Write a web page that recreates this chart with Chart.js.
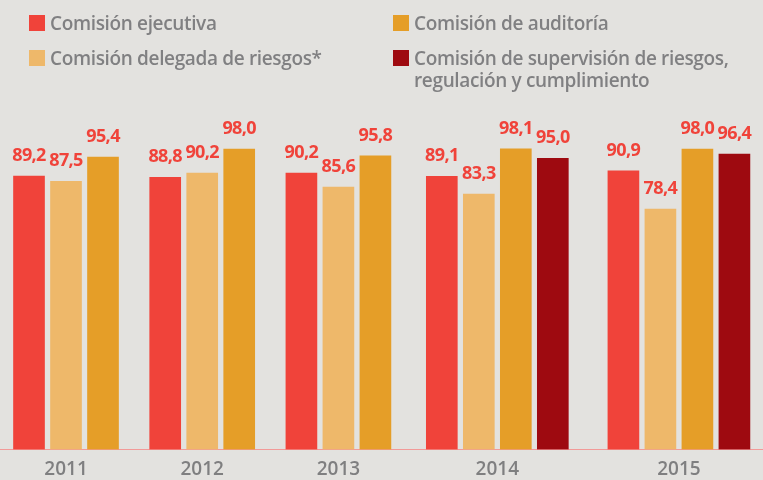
<!DOCTYPE html>
<html>
<head>
<meta charset="utf-8">
<script src="https://cdn.jsdelivr.net/npm/chart.js@4/dist/chart.umd.min.js"></script>
<style>
  html, body { margin: 0; padding: 0; background: #e3e2df; }
  #wrap { position: relative; width: 763px; height: 480px; overflow: hidden; background: #e3e2df; }
  #chart { position: absolute; left: 0; top: 0; }
  .leg { position: absolute; font-family: "Open Sans", sans-serif; font-weight: 600; font-size: 19px;
         line-height: 22px; color: #808082; white-space: nowrap; letter-spacing: -0.35px; }
  .leg .sw { position: absolute; left: -21px; top: 3px; width: 16px; height: 16px; }
</style>
</head>
<body>
<div id="wrap">
  <canvas id="chart" width="763" height="480"></canvas>
  <div id="legend"></div>
</div>
<script>
// ---- data ----
const years = ['2011', '2012', '2013', '2014', '2015'];
const ejecutiva   = [89.2, 88.8, 90.2, 89.1, 90.9];
const delegada    = [87.5, 90.2, 85.6, 83.3, 78.4];
const auditoria   = [95.4, 98.0, 95.8, 98.1, 98.0];
const supervision = [null, null, null, 95.0, 96.4];
const seriesNames = [
  'Comisión ejecutiva',
  'Comisión delegada de riesgos*',
  'Comisión de auditoría',
  ['Comisión de supervisión de riesgos,', 'regulación y cumplimiento']
];
const seriesColors = ['#f0433a', '#eeb86a', '#e59e28', '#9e0a10'];
const legendOrder = [0, 2, 1, 3];

// ---- layout helpers (derived from data structure) ----
const series = [ejecutiva, delegada, auditoria, supervision];
const BAR_STEP = 0.815;               // distance between bars of one year, in slot units
const counts = years.map((_, k) => series.filter(s => s[k] !== null).length);
const starts = counts.map((_, k) => counts.slice(0, k).reduce((a, b) => a + b, 0));
const centers = counts.map((n, k) => starts[k] + n / 2);

const datasets = series.map((vals, si) => {
  const pts = [];
  vals.forEach((v, k) => {
    if (v === null) return;
    const present = series.map((s, j) => j).filter(j => series[j][k] !== null);
    const idx = present.indexOf(si);
    pts.push({ x: centers[k] + (idx - (counts[k] - 1) / 2) * BAR_STEP, y: v });
  });
  return {
    label: Array.isArray(seriesNames[si]) ? seriesNames[si].join(' ') : seriesNames[si],
    data: pts,
    backgroundColor: seriesColors[si],
    borderWidth: 0,
    grouped: false,
    barThickness: 31
  };
});

// ---- HTML legend ----
const legendEl = document.getElementById('legend');
legendOrder.forEach((si, pos) => {
  const col = pos % 2, row = Math.floor(pos / 2);
  const d = document.createElement('div');
  d.className = 'leg';
  d.style.left = (col === 0 ? 50 : 414) + 'px';
  d.style.top = (row === 0 ? 12 : 47) + 'px';
  const sw = document.createElement('span');
  sw.className = 'sw';
  sw.style.background = seriesColors[si];
  d.appendChild(sw);
  const name = seriesNames[si];
  (Array.isArray(name) ? name : [name]).forEach((line, li) => {
    if (li) d.appendChild(document.createElement('br'));
    d.appendChild(document.createTextNode(line));
  });
  legendEl.appendChild(d);
});

// ---- value labels plugin ----
const valueLabels = {
  id: 'valueLabels',
  afterDatasetsDraw(chart) {
    const ctx = chart.ctx;
    ctx.save();
    ctx.font = 'bold 18px "Open Sans", sans-serif';
    if ('letterSpacing' in ctx) ctx.letterSpacing = '-0.6px';
    ctx.fillStyle = '#f0433a';
    ctx.textAlign = 'center';
    ctx.textBaseline = 'alphabetic';
    chart.data.datasets.forEach((ds, i) => {
      const meta = chart.getDatasetMeta(i);
      meta.data.forEach((el, j) => {
        const v = ds.data[j].y;
        ctx.fillText(v.toFixed(1).replace('.', ','), el.x, el.y - 15);
      });
    });
    ctx.restore();
  }
};

new Chart(document.getElementById('chart'), {
  type: 'bar',
  data: { datasets },
  options: {
    responsive: false,
    animation: false,
    devicePixelRatio: 1,
    layout: { padding: { top: 143, left: 0, right: 0, bottom: 0 } },
    plugins: { legend: { display: false }, tooltip: { enabled: false } },
    scales: {
      x: {
        type: 'linear',
        min: 0.046,
        max: 16.852,
        offset: false,
        afterBuildTicks: (scale) => { scale.ticks = centers.map(c => ({ value: c })); },
        afterFit: (scale) => { scale.height = 30.5; },
        ticks: {
          callback: (value, index) => years[index],
          font: { family: '"Open Sans", sans-serif', size: 19, weight: '600' },
          color: '#7f7f80',
          padding: 9,
          maxRotation: 0,
          autoSkip: false
        },
        grid: { display: true, drawOnChartArea: false, drawTicks: false, color: 'rgba(0,0,0,0)' },
        border: { display: true, color: '#f29a98', width: 1, dash: [1, 1] }
      },
      y: {
        display: false,
        min: 0,
        max: 100
      }
    }
  },
  plugins: [valueLabels]
});
</script>
</body>
</html>
